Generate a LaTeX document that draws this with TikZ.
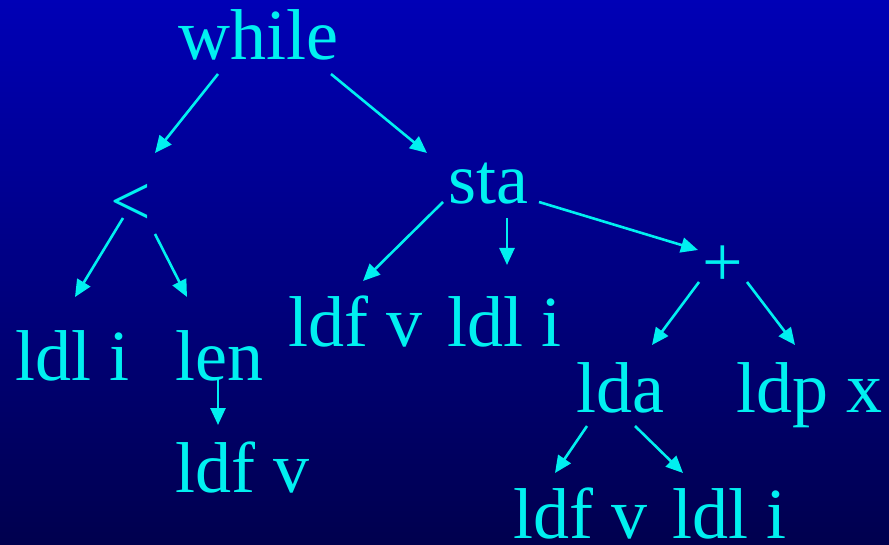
\documentclass[tikz,border=0pt]{standalone}
\usepackage{fontspec}
\setmainfont{Liberation Serif}
\usetikzlibrary{arrows.meta}

\definecolor{topblue}{RGB}{0,0,182}
\definecolor{botblue}{RGB}{0,0,78}
\definecolor{treecyan}{RGB}{0,240,240}

\tikzset{
  lbl/.style={text=treecyan, inner sep=0pt, anchor=base,
    font=\fontsize{72}{80}\selectfont},
  edge/.style={draw=treecyan, line width=2.6pt,
    -{Triangle[length=17pt,width=15pt]}}
}

\begin{document}
\begin{tikzpicture}[x=1pt, y=-1pt]

    % Background
    \shade[top color=topblue, bottom color=botblue] (0,0) rectangle (889,545);
    \useasboundingbox (0,0) rectangle (889,545);

    % Tree nodes
    \node[lbl] (while) at (258,60) {while};
    \node[lbl] (lt)    at (131,226) {<};
    \node[lbl] (sta)   at (488.5,204) {sta};
    \node[lbl] (ldli1) at (72.5,380) {ldl i};
    \node[lbl] (len)   at (219,380) {len};
    \node[lbl] (ldfv1) at (242.5,492) {ldf v};
    \node[lbl] (ldfv2) at (355.5,347) {ldf v};
    \node[lbl] (ldli2) at (504.5,347) {ldl i};
    \node[lbl] (plus)  at (723,287) {+};
    \node[lbl] (lda)   at (620,412) {lda};
    \node[lbl] (ldpx)  at (809,412) {ldp x};
    \node[lbl] (ldfv3) at (580,538) {ldf v};
    \node[lbl] (ldli3) at (729.5,538) {ldl i};

    % Edges
    \draw[edge] ([shift={(-40,14)}]while.base) -- ([shift={(24,-73)}]lt.base);
    \draw[edge] ([shift={(73,14)}]while.base) -- ([shift={(-61.5,-51)}]sta.base);
    \draw[edge] ([shift={(-8,-8)}]lt.base) -- ([shift={(2.5,-83)}]ldli1.base);
    \draw[edge] ([shift={(24,8)}]lt.base) -- ([shift={(-32,-83)}]len.base);
    \draw[edge] ([shift={(-1,-2)}]len.base) -- ([shift={(-24.5,-67)}]ldfv1.base);
    \draw[edge] ([shift={(-45.5,-2)}]sta.base) -- ([shift={(7.5,-66)}]ldfv2.base);
    \draw[edge] ([shift={(18.5,14)}]sta.base) -- ([shift={(2.5,-82)}]ldli2.base);
    \draw[edge] ([shift={(50.5,-2)}]sta.base) -- ([shift={(-25,-37)}]plus.base);
    \draw[edge] ([shift={(-24,-5)}]plus.base) -- ([shift={(32,-67)}]lda.base);
    \draw[edge] ([shift={(24,-5)}]plus.base) -- ([shift={(-14,-67)}]ldpx.base);
    \draw[edge] ([shift={(-33,14)}]lda.base) -- ([shift={(-25,-65)}]ldfv3.base);
    \draw[edge] ([shift={(15,14)}]lda.base) -- ([shift={(-46.5,-65)}]ldli3.base);

\end{tikzpicture}
\end{document}
